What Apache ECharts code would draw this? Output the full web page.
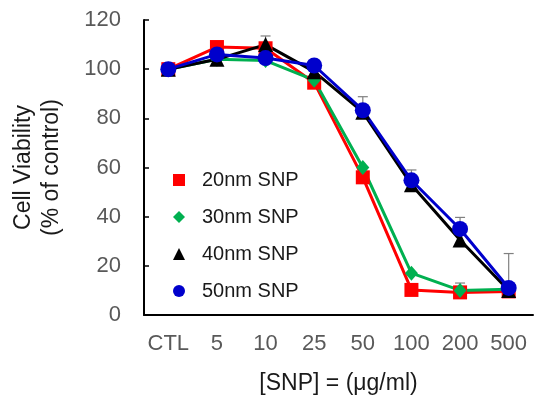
<!DOCTYPE html>
<html>
<head>
<meta charset="utf-8">
<script src="https://cdn.jsdelivr.net/npm/echarts@6/dist/echarts.min.js"></script>
<style>html,body{margin:0;padding:0;background:#fff}#c{width:540px;height:401px}</style>
</head>
<body>
<div id="c"></div>
<script>
var categories = ['CTL', '5', '10', '25', '50', '100', '200', '500'];
var seriesNames = ['20nm SNP', '30nm SNP', '40nm SNP', '50nm SNP'];
var snp20 = [100, 109, 108.5, 94.5, 56, 10.2, 9.2, 9.6];
var snp30 = [100, 104, 103.5, 95.5, 60, 17, 10, 10.5];
var snp40 = [100, 104, 110, 99, 82.5, 53, 30.5, 10];
var snp50 = [100, 106, 104.5, 101.5, 83.3, 54.8, 35, 11];
// error bars: [category index, base value, upper value]
var errorBars = [
  [2, 110, 113.5],
  [4, 83.3, 88.8],
  [5, 54.8, 59],
  [6, 35, 39.7],
  [6, 9.2, 13],
  [7, 11, 25]
];
var yTicks = {min: 0, max: 120, interval: 20};

var chart = echarts.init(document.getElementById('c'));
var font = 'Liberation Sans, Arial, sans-serif';
function lineSeries(name, data, color, symbol, size) {
  return {
    name: name, type: 'line', data: data, symbol: symbol, symbolSize: size,
    lineStyle: {color: color, width: 3}, itemStyle: {color: color},
    z: 3, animation: false
  };
}
chart.setOption({
  animation: false,
  grid: {left: 144, top: 20, right: 7, bottom: 86},
  legend: {
    orient: 'vertical', left: 155, top: 165,
    data: seriesNames,
    itemWidth: 36, itemHeight: 15, itemGap: 17,
    lineStyle: {opacity: 0},
    textStyle: {fontFamily: font, fontSize: 20, color: '#1a1a1a'}
  },
  xAxis: {
    type: 'category', data: categories,
    name: '[SNP] = (\u03bcg/ml)', nameLocation: 'middle', nameGap: 57,
    nameTextStyle: {fontFamily: font, fontSize: 23, color: '#1a1a1a'},
    axisLine: {lineStyle: {color: '#000', width: 2}},
    axisTick: {inside: true, length: 6, lineStyle: {color: '#000', width: 1.5}},
    axisLabel: {interval: 0, fontFamily: font, fontSize: 22, color: '#595959', margin: 18},
    splitLine: {show: false}
  },
  yAxis: {
    type: 'value', min: yTicks.min, max: yTicks.max, interval: yTicks.interval,
    name: 'Cell Viability\n(% of control)', nameLocation: 'middle', nameGap: 78, nameRotate: 90,
    nameTextStyle: {fontFamily: font, fontSize: 23, color: '#1a1a1a', lineHeight: 28},
    axisLine: {show: true, lineStyle: {color: '#000', width: 2}},
    axisTick: {show: true, inside: true, length: 5, lineStyle: {color: '#000', width: 1.5}},
    axisLabel: {fontFamily: font, fontSize: 22, color: '#595959', margin: 23},
    splitLine: {show: false}
  },
  series: [
    {
      type: 'custom', name: 'err', data: errorBars, z: 1,
      renderItem: function (params, api) {
        var x = api.value(0);
        var p0 = api.coord([x, api.value(1)]);
        var p1 = api.coord([x, api.value(2)]);
        var st = {stroke: '#808080', lineWidth: 1.2};
        return {type: 'group', children: [
          {type: 'line', shape: {x1: p0[0], y1: p0[1], x2: p1[0], y2: p1[1]}, style: st},
          {type: 'line', shape: {x1: p1[0] - 5, y1: p1[1], x2: p1[0] + 5, y2: p1[1]}, style: st}
        ]};
      },
      encode: {x: 0, y: [1, 2]}
    },
    lineSeries(seriesNames[0], snp20, '#ff0000', 'rect', 14),
    lineSeries(seriesNames[1], snp30, '#00b050', 'diamond', [13, 15]),
    lineSeries(seriesNames[2], snp40, '#000000', 'triangle', 15),
    lineSeries(seriesNames[3], snp50, '#0000cc', 'circle', 16)
  ]
});
</script>
</body>
</html>
